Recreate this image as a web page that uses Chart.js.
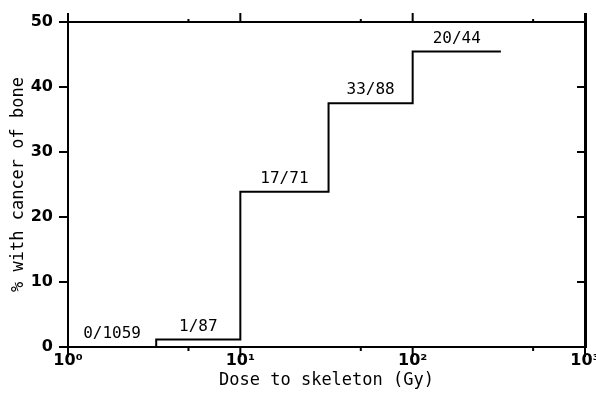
<!DOCTYPE html>
<html>
<head>
<meta charset="utf-8">
<script src="https://cdn.jsdelivr.net/npm/chart.js@4.4.0/dist/chart.umd.min.js"></script>
<style>
  html, body { margin: 0; padding: 0; background: #fff; }
</style>
</head>
<body>
<canvas id="c" width="596" height="394"></canvas>
<script>
// dose groups: step edges in Gy, % with bone cancer, cases/total label
const doseEdges = [1, 3.25, 10, 32.5, 100, 325];
const pctCancer = [0, 1.15, 23.9, 37.5, 45.45];
const groupLabels = ['0/1059', '1/87', '17/71', '33/88', '20/44'];

// axis ticks
const xMajorTicks = [1, 10, 100, 1000];
const xMajorLabels = ['10⁰', '10¹', '10²', '10³'];
const xMinorTicks = [5, 50, 500];
const yTicks = [0, 10, 20, 30, 40, 50];
const yRightTicks = [10, 20, 30, 40];

const tickFont = { family: 'DejaVu Sans', size: 16, weight: 'bold' };
const titleFont = { family: 'DejaVu Sans Mono', size: 17 };

// step points: each group starts at its lower edge, last point closes the top step
const stepPoints = doseEdges.map((d, i) => ({ x: d, y: pctCancer[Math.min(i, pctCancer.length - 1)] }));

/* frame, ticks on all four sides */
const framePlugin = {
  id: 'frame',
  afterDatasetsDraw(chart) {
    const { ctx, chartArea: a, scales: { x, y } } = chart;
    ctx.save();
    ctx.strokeStyle = '#000';
    ctx.lineWidth = 2;
    ctx.beginPath();
    ctx.moveTo(a.left, a.top - 9); ctx.lineTo(a.left, a.bottom + 10);
    ctx.moveTo(a.left - 9, a.top); ctx.lineTo(a.right, a.top);
    ctx.moveTo(a.left - 9, a.bottom); ctx.lineTo(a.right, a.bottom);
    yTicks.forEach(v => {
      const py = y.getPixelForValue(v);
      ctx.moveTo(a.left - 9, py); ctx.lineTo(a.left, py);
    });
    yRightTicks.forEach(v => {
      const py = y.getPixelForValue(v);
      ctx.moveTo(a.right - 8, py); ctx.lineTo(a.right, py);
    });
    xMajorTicks.forEach(v => {
      const px = x.getPixelForValue(v);
      ctx.moveTo(px, a.bottom); ctx.lineTo(px, a.bottom + 10);
      ctx.moveTo(px, a.top); ctx.lineTo(px, a.top - 9);
    });
    xMinorTicks.forEach(v => {
      const px = x.getPixelForValue(v);
      ctx.moveTo(px, a.bottom); ctx.lineTo(px, a.bottom + 4);
      ctx.moveTo(px, a.top); ctx.lineTo(px, a.top - 3);
    });
    ctx.stroke();
    ctx.lineWidth = 3;
    ctx.beginPath();
    ctx.moveTo(a.right + 0.5, a.top - 9); ctx.lineTo(a.right + 0.5, a.bottom + 1);
    ctx.stroke();

    // group labels above each step
    ctx.fillStyle = '#000';
    ctx.font = '16px "DejaVu Sans Mono"';
    ctx.textAlign = 'center';
    ctx.textBaseline = 'alphabetic';
    groupLabels.forEach((t, i) => {
      const cx = x.getPixelForValue(Math.sqrt(doseEdges[i] * doseEdges[i + 1]));
      const cy = y.getPixelForValue(pctCancer[i]) - 9;
      ctx.fillText(t, cx, cy);
    });
    ctx.restore();
  }
};

new Chart(document.getElementById('c'), {
  type: 'scatter',
  data: {
    datasets: [{
      data: stepPoints,
      showLine: true,
      stepped: 'before',
      borderColor: '#000',
      borderWidth: 2,
      pointRadius: 0,
      fill: false
    }]
  },
  options: {
    responsive: false,
    animation: false,
    devicePixelRatio: 1,
    layout: { padding: { top: 22, right: 11, left: 0, bottom: 0 } },
    plugins: { legend: { display: false }, tooltip: { enabled: false } },
    scales: {
      x: {
        type: 'logarithmic',
        min: 1,
        max: 1000,
        grid: { display: false, drawTicks: false },
        border: { display: false },
        afterBuildTicks: s => { s.ticks = xMajorTicks.map(v => ({ value: v, major: true })); },
        ticks: {
          autoSkip: false,
          maxRotation: 0,
          color: '#000',
          font: tickFont,
          padding: 4,
          callback: (v, i) => xMajorLabels[i]
        },
        title: { display: true, text: 'Dose to skeleton (Gy)', color: '#000', font: titleFont, padding: { top: 0, bottom: 3 } },
        afterFit: s => { s.height = 47; s.paddingLeft = 0; s.paddingRight = 0; }
      },
      y: {
        min: 0,
        max: 50,
        grid: { display: false, drawTicks: false },
        border: { display: false },
        ticks: { stepSize: 10, color: '#000', font: tickFont, padding: 15 },
        title: { display: true, text: '% with cancer of bone', color: '#000', font: titleFont, padding: { top: 8, bottom: 0 } },
        afterFit: s => { s.width = 68; s.paddingTop = 0; s.paddingBottom = 0; }
      }
    }
  },
  plugins: [framePlugin]
});
</script>
</body>
</html>
